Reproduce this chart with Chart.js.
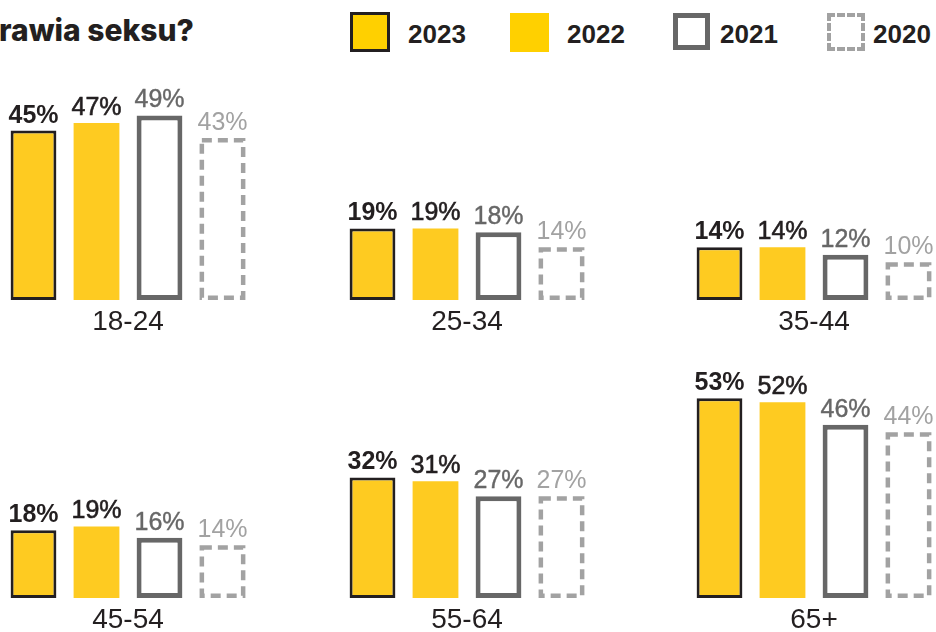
<!DOCTYPE html>
<html><head><meta charset="utf-8">
<script src="https://cdn.jsdelivr.net/npm/chart.js@4.4.0/dist/chart.umd.min.js"></script>
<style>
html,body{margin:0;padding:0;background:#fff;width:936px;height:632px;overflow:hidden;position:relative;}
#title{position:absolute;left:-1px;top:15px;font:800 30px Inter, sans-serif;line-height:30px;color:#231f20;white-space:nowrap;}
.lbox{position:absolute;box-sizing:border-box;}
.ltext{position:absolute;top:21px;font:700 26px "Liberation Sans", Arial, sans-serif;line-height:26px;color:#231f20;white-space:nowrap;}
canvas.panel{position:absolute;}
</style></head><body>
<div id="title">rawia seksu?</div>
<div id="legend"></div>
<script>
// ---- data ----
const ageGroups = ['18-24', '25-34', '35-44', '45-54', '55-64', '65+'];
const years = ['2023', '2022', '2021', '2020'];
const values2023 = [45, 19, 14, 18, 32, 53];
const values2022 = [47, 19, 14, 19, 31, 52];
const values2021 = [49, 18, 12, 16, 27, 46];
const values2020 = [43, 14, 10, 14, 27, 44];
const seriesValues = [values2023, values2022, values2021, values2020];

// ---- styles & layout ----
const YELLOW = '#FECB21';
const styles = [
  {bg: YELLOW, border: '#231F20', bw: 3, label: '#231F20', weight: 'bold', stroke: 0, dashed: false,
   lbox: {left: 350, top: 12, w: 40, h: 40, css: 'background:#FFD000;border:3px solid #231F20;'}, ltext: 408},
  {bg: YELLOW, border: YELLOW, bw: 0, label: '#231F20', weight: 'normal', stroke: 0.6, dashed: false,
   lbox: {left: 510, top: 13, w: 39, h: 39, css: 'background:#FFD000;'}, ltext: 567},
  {bg: '#FFFFFF', border: '#676767', bw: 5, label: '#676767', weight: 'normal', stroke: 0.4, dashed: false,
   lbox: {left: 673, top: 13, w: 37, h: 37, css: 'background:#fff;border:5px solid #676767;'}, ltext: 720},
  {bg: 'rgba(0,0,0,0)', border: 'rgba(0,0,0,0)', bw: 0, label: '#A2A2A2', weight: 'normal', stroke: 0, dashed: true,
   dashColor: '#A2A2A2', dashWidth: 4.5,
   lbox: {left: 827, top: 13, w: 38, h: 38, css: 'background:#fff;border:4px dashed #A2A2A2;'}, ltext: 873}
];
const colCenters = [128, 467, 814];
const rowBaselines = [300, 598];
const PANEL_W = 300, PANEL_H = 286, PAD_TOP = 20, AXIS_H = 40;
const Y_MAX = 60;

// ---- legend ----
const legend = document.getElementById('legend');
years.forEach((yr, i) => {
  const s = styles[i];
  const b = document.createElement('div');
  b.className = 'lbox';
  b.style.cssText = `left:${s.lbox.left}px;top:${s.lbox.top}px;width:${s.lbox.w}px;height:${s.lbox.h}px;` + s.lbox.css;
  legend.appendChild(b);
  const t = document.createElement('div');
  t.className = 'ltext';
  t.style.left = s.ltext + 'px';
  t.textContent = yr;
  legend.appendChild(t);
});

// ---- plugins ----
const dashPlugin = {
  id: 'dashBars',
  afterDatasetsDraw(chart) {
    const ctx = chart.ctx;
    chart.data.datasets.forEach((ds, di) => {
      const s = styles[di];
      if (!s.dashed) return;
      chart.getDatasetMeta(di).data.forEach(bar => {
        const {x, y, base, width} = bar.getProps(['x', 'y', 'base', 'width'], true);
        const lw = s.dashWidth;
        ctx.save();
        ctx.strokeStyle = s.dashColor;
        ctx.lineWidth = lw;
        ctx.setLineDash([10, 6]);
        ctx.strokeRect(x - width / 2 + lw / 2, y + lw / 2, width - lw, base - y - lw);
        ctx.restore();
      });
    });
  }
};
const valueLabelPlugin = {
  id: 'valueLabels',
  afterDatasetsDraw(chart) {
    const ctx = chart.ctx;
    chart.data.datasets.forEach((ds, di) => {
      const s = styles[di];
      chart.getDatasetMeta(di).data.forEach((bar, j) => {
        const {x, y} = bar.getProps(['x', 'y'], true);
        const txt = ds.data[j] + '%';
        ctx.save();
        ctx.font = `${s.weight} 25px "Liberation Sans", Arial, sans-serif`;
        ctx.fillStyle = s.label;
        ctx.textAlign = 'center';
        ctx.textBaseline = 'alphabetic';
        ctx.fillText(txt, x, y - 8);
        if (s.stroke > 0) {
          ctx.strokeStyle = s.label;
          ctx.lineWidth = s.stroke;
          ctx.strokeText(txt, x, y - 8);
        }
        ctx.restore();
      });
    });
  }
};

// ---- panels ----
ageGroups.forEach((grp, gi) => {
  const col = gi % 3, row = Math.floor(gi / 3);
  const cv = document.createElement('canvas');
  cv.className = 'panel';
  cv.width = PANEL_W; cv.height = PANEL_H;
  cv.style.width = PANEL_W + 'px'; cv.style.height = PANEL_H + 'px';
  cv.style.left = (colCenters[col] - PANEL_W / 2) + 'px';
  cv.style.top = (rowBaselines[row] - (PANEL_H - AXIS_H)) + 'px';
  document.body.appendChild(cv);
  new Chart(cv, {
    type: 'bar',
    data: {
      labels: [grp],
      datasets: years.map((yr, i) => ({
        label: yr,
        data: [seriesValues[i][gi]],
        backgroundColor: styles[i].bg,
        borderColor: styles[i].border,
        borderWidth: styles[i].bw,
        borderSkipped: false,
        categoryPercentage: 252 / PANEL_W,
        barPercentage: 0.727
      }))
    },
    options: {
      responsive: false,
      animation: false,
      devicePixelRatio: 1,
      layout: {padding: {top: PAD_TOP, left: 0, right: 0, bottom: 0}},
      plugins: {legend: {display: false}, tooltip: {enabled: false}},
      scales: {
        x: {
          grid: {display: false, drawTicks: false},
          border: {display: false},
          ticks: {color: '#231F20', font: {family: '"Liberation Sans", Arial, sans-serif', size: 28}, padding: 5},
          afterFit(scale) { scale.height = AXIS_H; }
        },
        y: {display: false, min: 0, max: Y_MAX}
      }
    },
    plugins: [dashPlugin, valueLabelPlugin]
  });
});
</script>
</body></html>
